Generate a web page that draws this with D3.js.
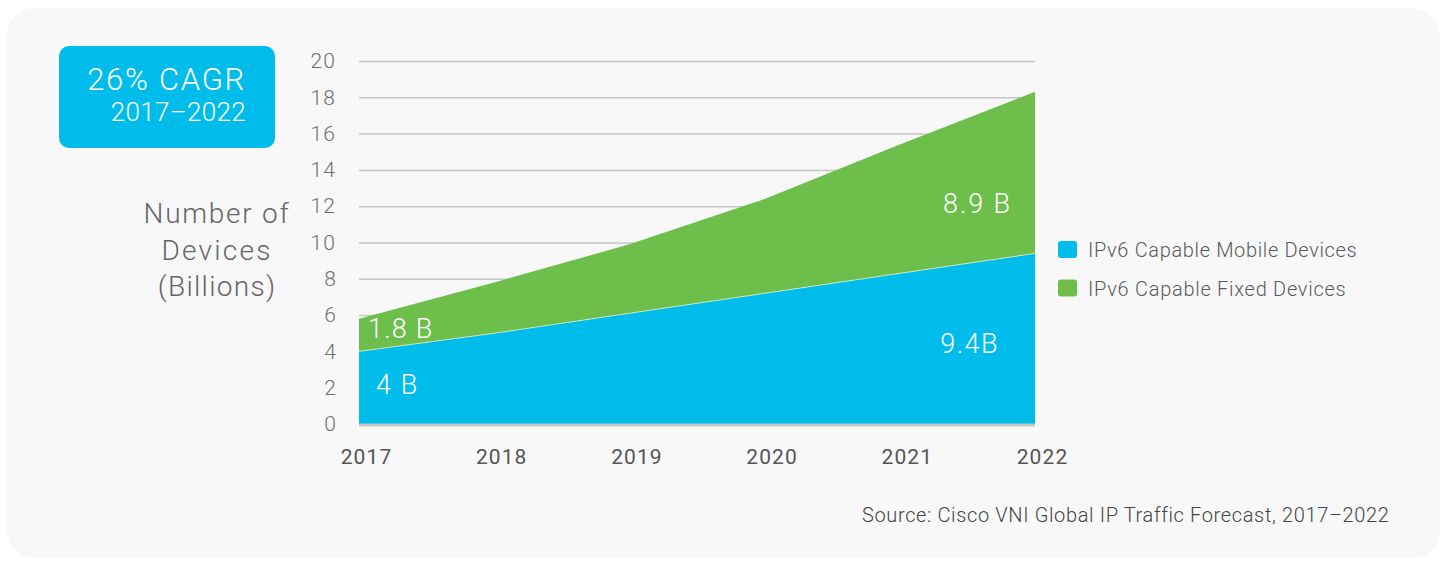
<!DOCTYPE html>
<html><head><meta charset="utf-8">
<script src="https://cdn.jsdelivr.net/npm/d3@7"></script>
<style>body{margin:0;background:#fff;font-family:Roboto,"Noto Sans",sans-serif;}</style>
</head><body>
<svg id="c" width="1448" height="565"></svg>
<script>
const years = [2017, 2018, 2019, 2020, 2021, 2022];
const mobile = [4.0, 5.0, 6.1, 7.2, 8.3, 9.4];
const fixed = [1.8, 2.8, 3.8, 5.2, 7.1, 8.9];
const yTicks = [0, 2, 4, 6, 8, 10, 12, 14, 16, 18, 20];
const seriesNames = ["IPv6 Capable Mobile Devices", "IPv6 Capable Fixed Devices"];
const colors = ["#00bceb", "#6dbe4b"];
const valueLabels = [
  {text: "1.8 B", year: 2017, v: 4.75, anchor: "start", dx: 9, w: 65},
  {text: "4 B", year: 2017, v: 1.65, anchor: "start", dx: 17, w: 42},
  {text: "8.9 B", year: 2022, v: 11.6, anchor: "end", dx: -23, w: 68},
  {text: "9.4B", year: 2022, v: 3.9, anchor: "end", dx: -36, w: 58}
];

// adjust letter-spacing so text reaches a target width
function fit(node, target) {
  const n = node.textContent.length;
  const w = node.getComputedTextLength();
  if (n > 1) d3.select(node).style("letter-spacing", ((target - w) / (n - 0.5)) + "px");
}

const svg = d3.select("#c");
svg.append("rect").attr("x", 7).attr("y", 8).attr("width", 1433).attr("height", 550)
  .attr("rx", 28).attr("fill", "#f8f8f8");

const x = d3.scaleLinear().domain([2017, 2022]).range([359, 1035]);
const y = d3.scaleLinear().domain([0, 20]).range([424, 61]);

// grid
const ya = svg.append("g").attr("transform", "translate(359,0)")
  .call(d3.axisLeft(y).tickValues(yTicks).tickSize(-676).tickPadding(23));
ya.select(".domain").remove();
ya.selectAll(".tick line").attr("stroke", "#c6c6c6").attr("stroke-width", 1.5);
ya.selectAll(".tick text").attr("fill", "#707070").style("font-size", "21px")
  .style("font-family", "Roboto").style("font-weight", 300)
  .each(function(d) { fit(this, d >= 10 ? 25 : 13); });

const data = years.map((yr, i) => ({year: yr, mobile: mobile[i], fixed: fixed[i]}));
const stack = d3.stack().keys(["mobile", "fixed"])(data);
const area = d3.area().x(d => x(d.data.year)).y0(d => y(d[0])).y1(d => y(d[1]));
svg.append("g").selectAll("path").data(stack).join("path")
  .attr("d", area).attr("fill", (d, i) => colors[i]);
// separator line
svg.append("path").datum(stack[0])
  .attr("d", d3.line().x(d => x(d.data.year)).y(d => y(d[1])))
  .attr("fill", "none").attr("stroke", "#d8f0d0").attr("stroke-width", 0.8);

// baseline
svg.append("line").attr("x1", 359).attr("x2", 1035).attr("y1", y(0) + 1).attr("y2", y(0) + 1)
  .attr("stroke", "#c6c6c6").attr("stroke-width", 3);

// x axis
const xa = svg.append("g").attr("transform", `translate(7,${y(0)})`)
  .call(d3.axisBottom(x).tickValues(years).tickFormat(d3.format("d")).tickSize(0).tickPadding(25));
xa.select(".domain").remove();
xa.selectAll(".tick text").attr("fill", "#555").style("font-size", "21px")
  .style("font-family", "Roboto").style("font-weight", 400)
  .each(function() { fit(this, 51); });

// value labels
svg.append("g").selectAll("text").data(valueLabels).join("text")
  .attr("x", d => x(d.year) + d.dx).attr("y", d => y(d.v))
  .attr("text-anchor", d => d.anchor).attr("fill", "#fff")
  .style("font-size", "27px").style("font-weight", 300).text(d => d.text)
  .each(function(d) { fit(this, d.w); });

// y title
const yt = svg.append("text").attr("text-anchor", "middle").attr("fill", "#666")
  .style("font-size", "28px").style("font-weight", 300);
const titleW = [146, 110, 118];
["Number of", "Devices", "(Billions)"].forEach((t, i) => {
  const ts = yt.append("tspan").attr("x", 217).attr("y", 223 + i * 36.5).text(t);
  fit(ts.node(), titleW[i]);
});

// CAGR box
svg.append("rect").attr("x", 59).attr("y", 46).attr("width", 216).attr("height", 102)
  .attr("rx", 10).attr("fill", "#00bceb");
svg.append("text").attr("x", 246).attr("y", 90).attr("text-anchor", "end").attr("fill", "#fff")
  .style("font-size", "31px").style("font-weight", 300).text("26% CAGR")
  .each(function() { fit(this, 158); });
svg.append("text").attr("x", 246).attr("y", 121).attr("text-anchor", "end").attr("fill", "#fff")
  .style("font-size", "26px").style("font-weight", 300).text("2017–2022")
  .each(function() { fit(this, 135); });

// legend
const lg = svg.append("g").selectAll("g").data(seriesNames).join("g")
  .attr("transform", (d, i) => `translate(1058,${241 + i * 38.5})`);
lg.append("rect").attr("width", 19).attr("height", 17).attr("rx", 3)
  .attr("fill", (d, i) => colors[i]);
const legW = [269, 258];
lg.append("text").attr("x", 30).attr("y", 16).attr("fill", "#5a5a5a")
  .style("font-size", "20px").style("font-weight", 300).text(d => d)
  .each(function(d, i) { fit(this, legW[i]); });

// source
svg.append("text").attr("x", 862).attr("y", 522).attr("fill", "#444")
  .style("font-size", "20px").style("font-weight", 300)
  .text("Source: Cisco VNI Global IP Traffic Forecast, 2017–2022")
  .each(function() { fit(this, 526); });
</script>
</body></html>
